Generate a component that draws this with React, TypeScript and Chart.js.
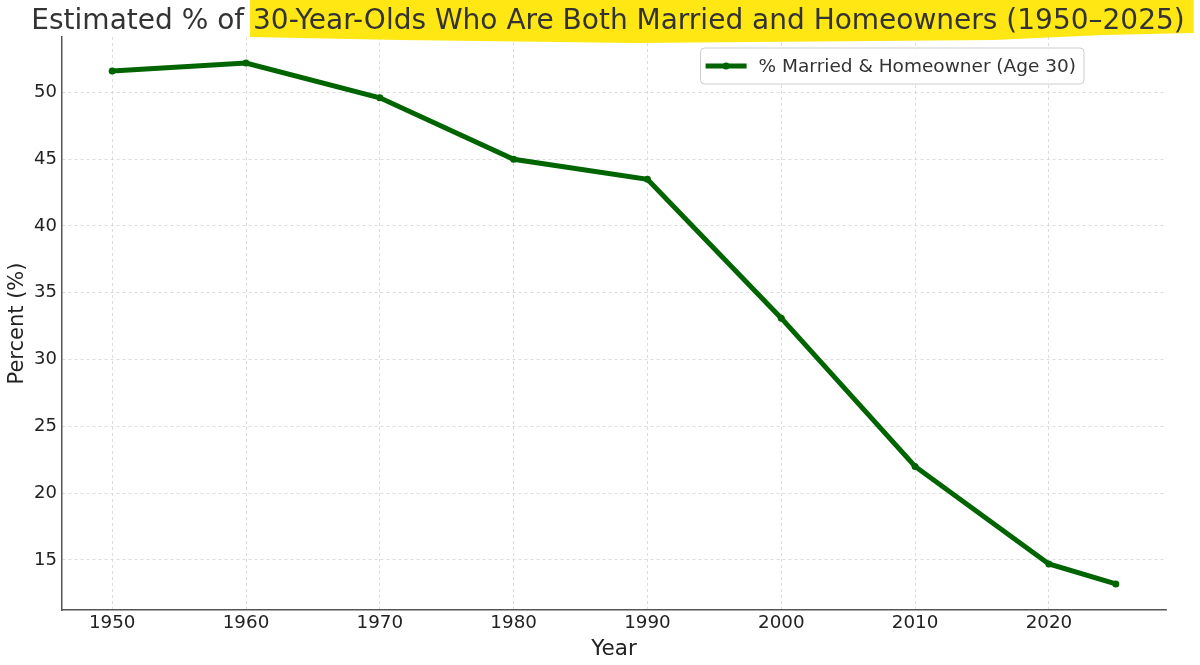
import React, { useEffect, useRef } from "react";
import { Chart, registerables } from "chart.js";

Chart.register(...registerables);

const titleText = "Estimated % of 30-Year-Olds Who Are Both Married and Homeowners (1950–2025)";
const highlightPrefix = "Estimated % of ";
const seriesLabel = "% Married & Homeowner (Age 30)";
const years = [1950, 1960, 1970, 1980, 1990, 2000, 2010, 2020, 2025];
const percentValues = [51.6, 52.2, 49.6, 45.0, 43.5, 33.1, 22.0, 14.7, 13.2];
const xTickValues = [1950, 1960, 1970, 1980, 1990, 2000, 2010, 2020];
const yTickValues = [15, 20, 25, 30, 35, 40, 45, 50];

const GREEN = "#006400";
const FONT = "'DejaVu Sans', sans-serif";
const TITLE_SIZE = 28;

const highlightPlugin = {
  id: "titleHighlight",
  afterLayout(chart: any) {
    const tb = chart.titleBlock;
    if (tb) {
      tb.left = 0;
      tb.right = chart.width + 16;
      tb.width = tb.right - tb.left;
    }
  },
  beforeDraw(chart: any) {
    const { ctx } = chart;
    const tb = chart.titleBlock;
    if (!tb) return;
    ctx.save();
    ctx.font = `${TITLE_SIZE}px ${FONT}`;
    const full = ctx.measureText(titleText).width;
    const pre = ctx.measureText(highlightPrefix).width;
    const cx = (tb.left + tb.right) / 2;
    const s = cx - full / 2 + pre - 3;
    const e = cx + full / 2 + 9;
    ctx.fillStyle = "#ffe714";
    ctx.beginPath();
    ctx.moveTo(s, 0);
    ctx.lineTo(e, 0);
    ctx.lineTo(e, 33);
    ctx.lineTo(e - 90, 35);
    ctx.lineTo(e - 200, 40);
    ctx.lineTo(e - 560, 43);
    ctx.lineTo(s + 150, 40);
    ctx.lineTo(s, 37);
    ctx.closePath();
    ctx.fill();
    ctx.restore();
  },
};

const legendPlugin = {
  id: "boxLegend",
  afterDraw(chart: any) {
    const { ctx, chartArea } = chart;
    const ds = chart.data.datasets[0];
    ctx.save();
    ctx.font = `18.5px ${FONT}`;
    const tw = ctx.measureText(ds.label).width;
    const w = 5 + 41 + 12 + tw + 8;
    const h = 36;
    const x0 = chartArea.right - 82 - w;
    const y0 = chartArea.top + 11;
    ctx.beginPath();
    if (ctx.roundRect) ctx.roundRect(x0, y0, w, h, 4);
    else ctx.rect(x0, y0, w, h);
    ctx.fillStyle = "rgba(255,255,255,0.85)";
    ctx.fill();
    ctx.strokeStyle = "#cccccc";
    ctx.lineWidth = 1;
    ctx.stroke();
    const cy = y0 + h / 2;
    ctx.beginPath();
    ctx.moveTo(x0 + 5, cy);
    ctx.lineTo(x0 + 46, cy);
    ctx.strokeStyle = GREEN;
    ctx.lineWidth = 5;
    ctx.stroke();
    ctx.beginPath();
    ctx.arc(x0 + 25.5, cy, 3.5, 0, Math.PI * 2);
    ctx.fillStyle = GREEN;
    ctx.fill();
    ctx.fillStyle = "#333333";
    ctx.textBaseline = "middle";
    ctx.textAlign = "left";
    ctx.fillText(ds.label, x0 + 58, cy + 1);
    ctx.restore();
  },
};

export default function App() {
  const canvasRef = useRef<HTMLCanvasElement | null>(null);

  useEffect(() => {
    if (!canvasRef.current) return;
    Chart.defaults.font.family = FONT;
    const chart = new Chart(canvasRef.current, {
      type: "line",
      data: {
        datasets: [
          {
            label: seriesLabel,
            data: years.map((x, i) => ({ x, y: percentValues[i] })),
            borderColor: GREEN,
            backgroundColor: GREEN,
            borderWidth: 5,
            pointRadius: 3.5,
            pointBorderWidth: 0,
            pointBackgroundColor: GREEN,
            tension: 0,
            fill: false,
          },
        ],
      },
      options: {
        animation: false,
        responsive: true,
        maintainAspectRatio: false,
        layout: { padding: { left: 0, right: 34, top: 0, bottom: 0 } },
        plugins: {
          legend: { display: false },
          tooltip: { enabled: false },
          title: {
            display: true,
            text: titleText,
            color: "#333333",
            font: { size: TITLE_SIZE, weight: "normal", lineHeight: 1 },
            padding: { top: 8, bottom: 1 },
          },
        },
        scales: {
          x: {
            type: "linear",
            min: 1946.25,
            max: 2028.75,
            afterBuildTicks: (s: any) => {
              s.ticks = xTickValues.map((v) => ({ value: v }));
            },
            afterFit: (s: any) => {
              s.height = 55;
            },
            ticks: {
              color: "#222222",
              font: { size: 18.3 },
              padding: 2,
              maxRotation: 0,
              autoSkip: false,
              callback: (v: any) => String(v),
            },
            grid: { color: "#d4d4d4", lineWidth: 0.8, drawTicks: false },
            border: { display: true, color: "#555555", width: 1.5, dash: [3, 3] },
            title: {
              display: true,
              text: "Year",
              color: "#222222",
              font: { size: 21.5 },
              padding: { top: 0, bottom: 3 },
            },
          },
          y: {
            type: "linear",
            min: 11.25,
            max: 54.15,
            afterBuildTicks: (s: any) => {
              s.ticks = yTickValues.map((v) => ({ value: v }));
            },
            afterFit: (s: any) => {
              s.width = 62;
            },
            ticks: {
              color: "#222222",
              font: { size: 18 },
              padding: 5,
              callback: (v: any) => String(v),
            },
            grid: { color: "#d4d4d4", lineWidth: 0.8, drawTicks: false },
            border: { display: true, color: "#555555", width: 1.5, dash: [3, 3] },
            title: {
              display: true,
              text: "Percent (%)",
              color: "#222222",
              font: { size: 21 },
              padding: { top: 5.4, bottom: 0 },
            },
          },
        },
      },
      plugins: [highlightPlugin, legendPlugin],
    });
    return () => chart.destroy();
  }, []);

  return (
    <div style={{ position: "absolute", left: 0, top: 0, width: 1200, height: 665, background: "#ffffff" }}>
      <canvas ref={canvasRef} />
    </div>
  );
}
